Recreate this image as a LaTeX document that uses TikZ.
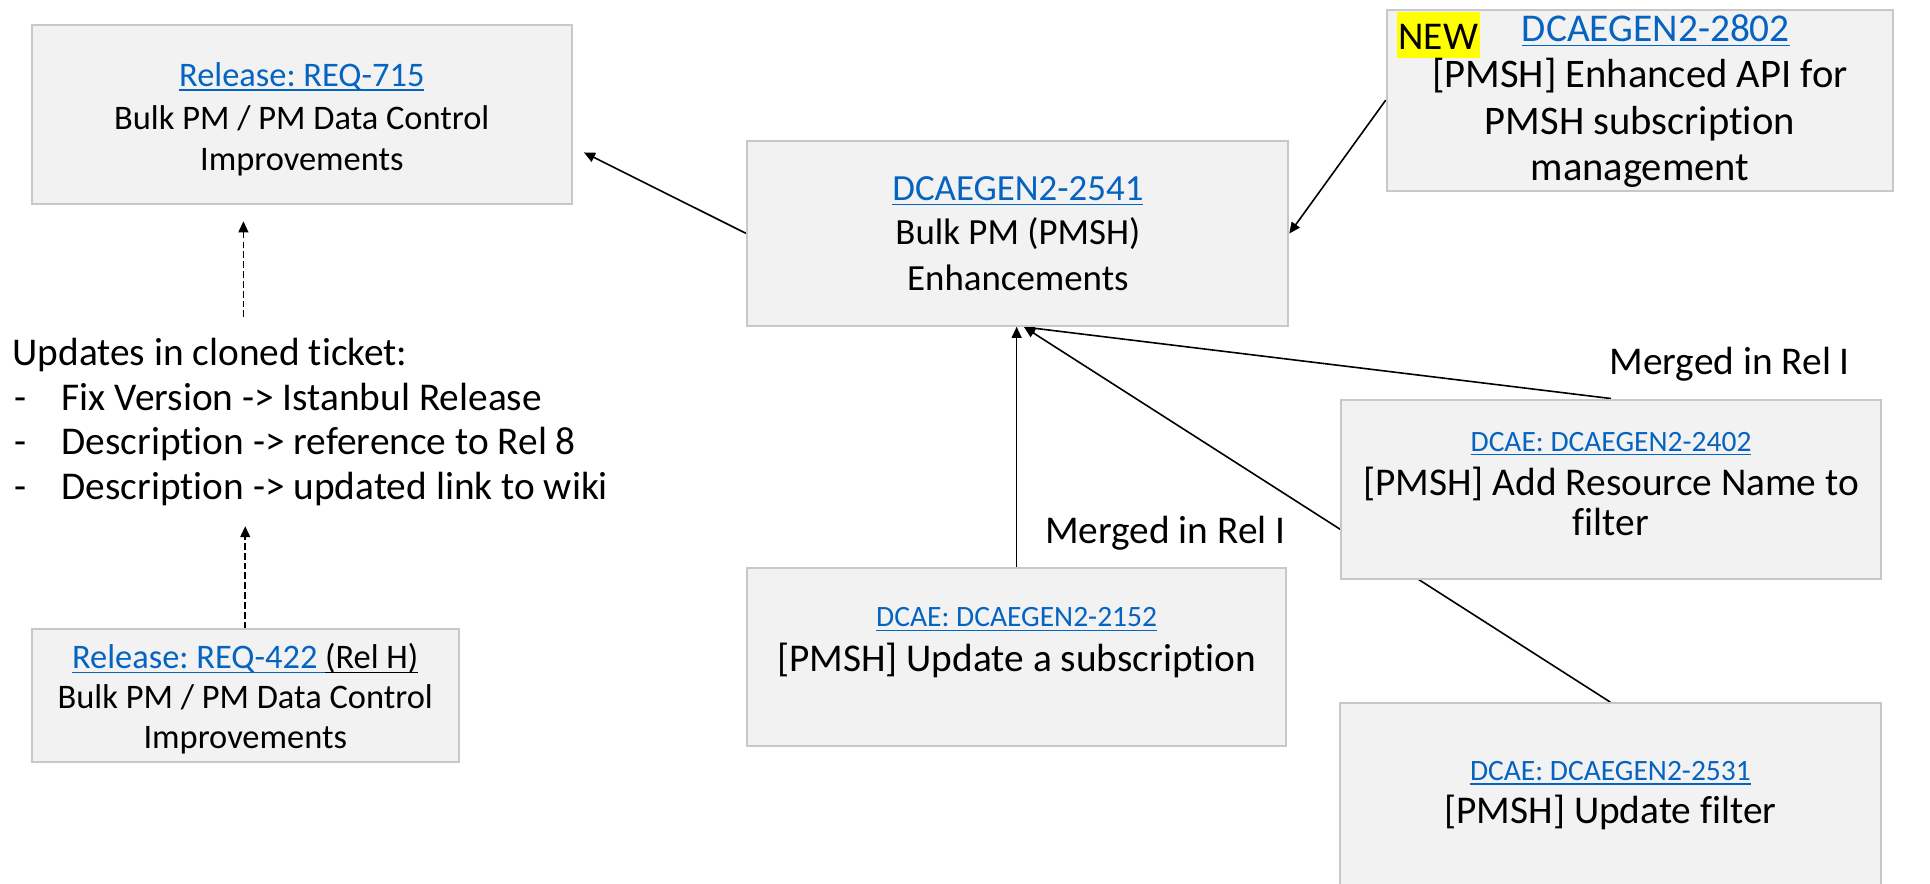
\documentclass[tikz,border=0pt]{standalone}
\usepackage{fontspec}
\setmainfont{Carlito}[Ligatures=NoCommon]
\frenchspacing
\usetikzlibrary{arrows.meta,calc}
\definecolor{boxfill}{HTML}{F2F2F2}
\definecolor{boxline}{HTML}{C8C8C8}
\definecolor{lnk}{HTML}{0563C1}
\definecolor{hl}{HTML}{FFFF00}
\pgfdeclarelayer{bg}
\pgfsetlayers{bg,main}
\newcommand\ulk[2][2.6pt]{\setbox0\hbox{#2}\dp0=0pt\vtop{\copy0\kern#1\hrule height 1.2pt}}
\tikzset{
  tbox/.style={draw=boxline, line width=1.6pt, fill=boxfill, inner sep=0pt},
  txt/.style={inner sep=0pt, anchor=base},
  arr/.style={line width=1.3pt, -{Triangle[length=9pt,width=8pt]}},
  darr/.style={line width=1.4pt, dash pattern=on 5.5pt off 2.5pt, -{Triangle[length=9pt,width=8pt]}},
  fA/.style={font=\fontsize{28}{34}\selectfont},
  fB/.style={font=\fontsize{30}{36}\selectfont},
  fC/.style={font=\fontsize{32}{38}\selectfont},
  fD/.style={font=\fontsize{33}{38}\selectfont},
  fS/.style={font=\fontsize{24}{29}\selectfont},
}
\begin{document}
\begin{tikzpicture}[x=1pt,y=-1pt]
\useasboundingbox (0,0) rectangle (1570,718.3);
\clip (0,0) rectangle (1570,718.3);
% boxes
\node[tbox, minimum width=439pt, minimum height=146pt] (req715) at (245.5,93) {};
\node[tbox, minimum width=440pt, minimum height=150pt] (e2541) at (828,190) {};
\node[tbox, minimum width=412pt, minimum height=147pt] (e2802) at (1334,81.5) {};
\node[tbox, minimum width=347pt, minimum height=108pt] (req422) at (199.5,566) {};
\node[tbox, minimum width=438pt, minimum height=145pt] (e2152) at (827,534.5) {};
\node[tbox, minimum width=439pt, minimum height=146pt] (e2402) at (1310.5,398) {};
\node[tbox, minimum width=440pt, minimum height=228pt] (e2531) at (1310,686) {};
% texts REQ-715
\node[txt, fA, text=lnk] (t715a) at (245.5,70) {\ulk{Release: REQ-715}};
\node[txt, fA] (t715b) at (245.5,105) {Bulk PM / PM Data Control};
\node[txt, fA] (t715c) at (245.5,139) {Improvements};
% 2541
\node[txt, fB, text=lnk] (t2541a) at (828,163) {\ulk{DCAEGEN2-2541}};
\node[txt, fB] (t2541b) at (828,199) {Bulk PM (PMSH)};
\node[txt, fB] (t2541c) at (828,236) {Enhancements};
% 2802
\node[fill=hl, inner sep=0pt, minimum width=68pt, minimum height=37pt] (newhl) at (1170,28.5) {};
\node[txt, fC] (tnew) at (1170,40) {NEW};
\node[txt, fC, text=lnk] (t2802a) at (1347,34) {\ulk{DCAEGEN2-2802}};
\node[txt, fD] (t2802b) at (1334,71) {[PMSH] Enhanced API for};
\node[txt, fD] (t2802c) at (1334,109) {PMSH subscription};
\node[txt, fD] (t2802d) at (1334,147) {management};
% updates text
\node[txt, fC, anchor=base west] (upd) at (10,297) {Updates in cloned ticket:};
\node[txt, fC, anchor=base west] (b1) at (12,334) {-};
\node[txt, fC, anchor=base west] (u1) at (50,334) {Fix Version -> Istanbul Release};
\node[txt, fC, anchor=base west] (b2) at (12,370) {-};
\node[txt, fC, anchor=base west] (u2) at (50,370) {Description -> reference to Rel 8};
\node[txt, fC, anchor=base west] (b3) at (12,406) {-};
\node[txt, fC, anchor=base west] (u3) at (50,406) {Description -> updated link to wiki};
% REQ-422
\node[txt, fA] (t422a) at (199.5,544) {\textcolor{lnk}{\ulk{Release: REQ-422\ }}\ulk{(Rel H)}};
\node[txt, fA] (t422b) at (199.5,576) {Bulk PM / PM Data Control};
\node[txt, fA] (t422c) at (199.5,609) {Improvements};
% 2152
\node[txt, fS, text=lnk] (t2152a) at (827,510) {\ulk[2.2pt]{DCAE: DCAEGEN2-2152}};
\node[txt, fC] (t2152b) at (827,546) {[PMSH] Update a subscription};
% 2402
\node[txt, fS, text=lnk] (t2402a) at (1310.5,367) {\ulk[2.2pt]{DCAE: DCAEGEN2-2402}};
\node[txt, fC] (t2402b) at (1310.5,403) {[PMSH] Add Resource Name to};
\node[txt, fC] (t2402c) at (1310.5,436) {filter};
% 2531
\node[txt, fS, text=lnk] (t2531a) at (1310,635) {\ulk[2.2pt]{DCAE: DCAEGEN2-2531}};
\node[txt, fC] (t2531b) at (1310,670) {[PMSH] Update filter};
% merged labels
\node[txt, fC] (m1) at (1407,305) {Merged in Rel I};
\node[txt, fC] (m2) at (948,442) {Merged in Rel I};
% coordinates
\coordinate (tip715) at (475,124);
\coordinate (conv) at (833,266);
\coordinate (d1s) at (198,258);
\coordinate (d1e) at (198,180);
\coordinate (d2e) at (199.5,428);
% connectors
\begin{pgfonlayer}{bg}
\draw[arr] (e2541.west) -- (tip715);
\draw[arr] (e2802.west) -- (e2541.east);
\draw[arr] (e2152.north) -- (e2152.north |- e2541.south);
\draw[arr] (e2402.north) -- (conv);
\draw[arr] (e2531.north) -- (conv);
\draw[darr] (d1s) -- (d1e);
\draw[darr] (req422.north) -- (d2e);
\end{pgfonlayer}
\end{tikzpicture}
\end{document}
